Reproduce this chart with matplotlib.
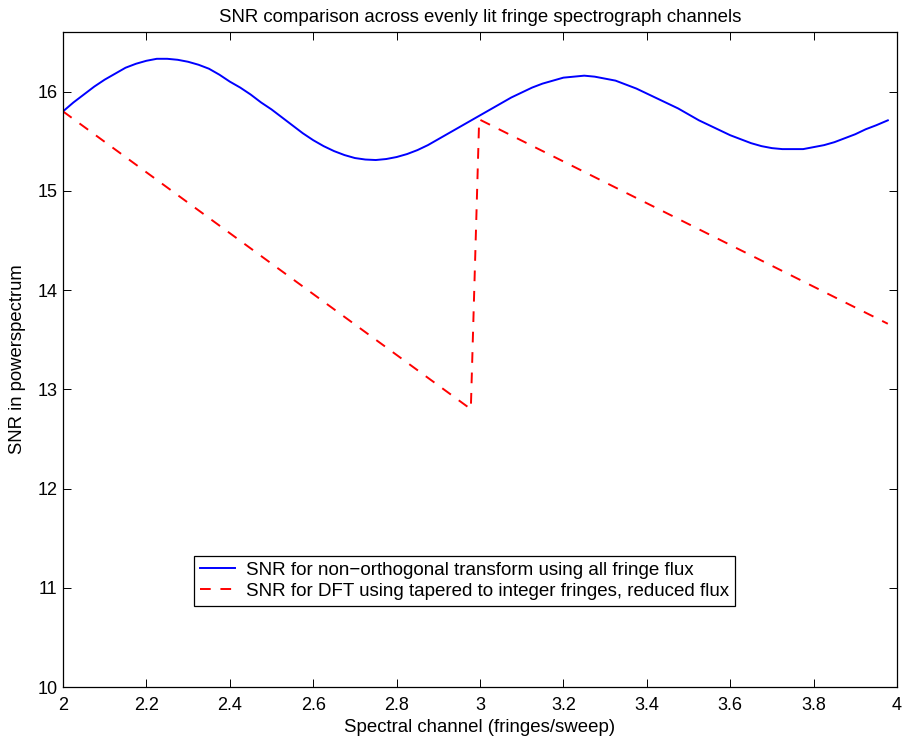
import matplotlib
matplotlib.use("Agg")
import matplotlib.pyplot as plt

plt.rcParams['font.family'] = ['Liberation Sans', 'DejaVu Sans']

# Blue curve: SNR for non-orthogonal transform
x_nonorth = [2.000, 2.025, 2.050, 2.075, 2.100, 2.125, 2.150, 2.175, 2.200, 2.225,
             2.250, 2.275, 2.300, 2.325, 2.350, 2.375, 2.400, 2.425, 2.450, 2.475,
             2.500, 2.525, 2.550, 2.575, 2.600, 2.625, 2.650, 2.675, 2.700, 2.725,
             2.750, 2.775, 2.800, 2.825, 2.850, 2.875, 2.900, 2.925, 2.950, 2.975,
             3.000, 3.025, 3.050, 3.075, 3.100, 3.125, 3.150, 3.175, 3.200, 3.225,
             3.250, 3.275, 3.300, 3.325, 3.350, 3.375, 3.400, 3.425, 3.450, 3.475,
             3.500, 3.525, 3.550, 3.575, 3.600, 3.625, 3.650, 3.675, 3.700, 3.725,
             3.750, 3.775, 3.800, 3.825, 3.850, 3.875, 3.900, 3.925, 3.950, 3.978]
snr_nonorth = [15.80, 15.89, 15.97, 16.05, 16.12, 16.18, 16.24, 16.28, 16.31, 16.33,
               16.33, 16.32, 16.30, 16.27, 16.23, 16.17, 16.10, 16.04, 15.97, 15.89,
               15.82, 15.74, 15.66, 15.58, 15.51, 15.45, 15.40, 15.36, 15.33, 15.315,
               15.31, 15.32, 15.34, 15.37, 15.41, 15.46, 15.52, 15.58, 15.64, 15.70,
               15.76, 15.82, 15.88, 15.94, 15.99, 16.04, 16.08, 16.11, 16.14, 16.15,
               16.16, 16.15, 16.13, 16.11, 16.07, 16.03, 15.98, 15.93, 15.88, 15.83,
               15.77, 15.71, 15.66, 15.61, 15.56, 15.52, 15.48, 15.45, 15.43, 15.42,
               15.42, 15.42, 15.44, 15.46, 15.49, 15.53, 15.57, 15.62, 15.66, 15.71]

# Red dashed curve: SNR for DFT tapered to integer fringes
x_dft = [2.00, 2.978, 2.998, 3.978]
snr_dft = [15.80, 12.80, 15.72, 13.66]

xticks = [2, 2.2, 2.4, 2.6, 2.8, 3, 3.2, 3.4, 3.6, 3.8, 4]
xticklabels = ['2', '2.2', '2.4', '2.6', '2.8', '3', '3.2', '3.4', '3.6', '3.8', '4']
yticks = [10, 11, 12, 13, 14, 15, 16]
yticklabels = ['10', '11', '12', '13', '14', '15', '16']

labels = ['SNR for non\u2212orthogonal transform using all fringe flux',
          'SNR for DFT using tapered to integer fringes, reduced flux']
title = 'SNR comparison across evenly lit fringe spectrograph channels'

fig = plt.figure(figsize=(9.03, 7.44), dpi=100)
ax = fig.add_axes([63/903, 57/744, 834/903, 655/744])

ax.plot(x_nonorth, snr_nonorth, color='#0000ff', lw=1.4, label=labels[0])
ax.plot(x_dft, snr_dft, color='#ff0000', lw=1.4, dashes=(5.5, 5), label=labels[1])

ax.set_xlim(2, 4)
ax.set_ylim(10, 16.6)
ax.set_xticks(xticks)
ax.set_xticklabels(xticklabels)
ax.set_yticks(yticks)
ax.set_yticklabels(yticklabels)
ax.tick_params(direction='in', length=5.5, width=0.7, top=True, right=True,
               labelsize=13, pad=4)
ax.tick_params(axis='x', pad=7)
for s in ax.spines.values():
    s.set_linewidth(0.9)
    s.set_color('black')

ax.set_title(title, fontsize=13.4, pad=7)
ax.set_xlabel('Spectral channel (fringes/sweep)', fontsize=13.4, labelpad=4)
ax.set_ylabel('SNR in powerspectrum', fontsize=13.3, labelpad=8)

leg = ax.legend(loc='upper left', bbox_to_anchor=(194/903, 1 - 556/744),
                bbox_transform=fig.transFigure, fontsize=13.5, frameon=True,
                fancybox=False, edgecolor='black', framealpha=1,
                handlelength=1.9, borderpad=0.3, labelspacing=0.22,
                handletextpad=0.6, borderaxespad=0)
leg.get_frame().set_linewidth(0.9)

fig.savefig('out.png', dpi=100)
